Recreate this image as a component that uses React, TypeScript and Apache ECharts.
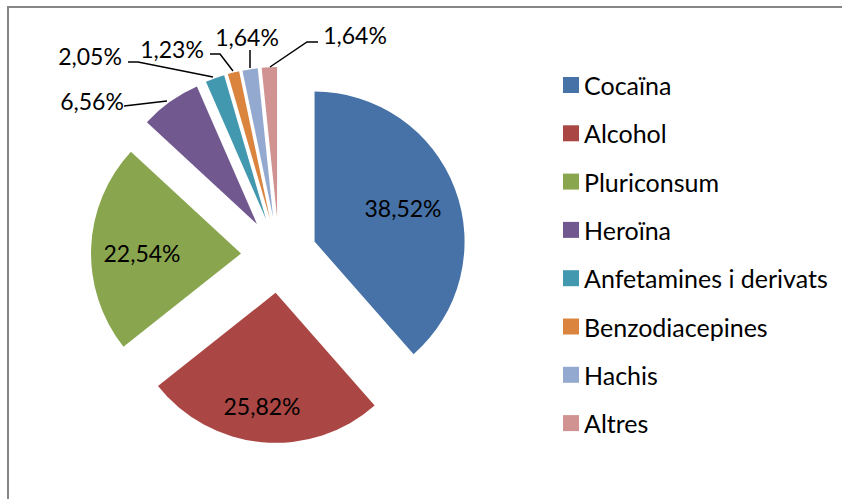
import React, { useEffect, useRef } from "react";
import * as echarts from "echarts";

const categories = [
  "Cocaïna",
  "Alcohol",
  "Pluriconsum",
  "Heroïna",
  "Anfetamines i derivats",
  "Benzodiacepines",
  "Hachis",
  "Altres",
];
const values = [38.52, 25.82, 22.54, 6.56, 2.05, 1.23, 1.64, 1.64];
const colors = [
  "#4672A8",
  "#AA4644",
  "#89A54E",
  "#71588F",
  "#4198AF",
  "#DB843D",
  "#93A9CF",
  "#D09392",
];

// label placement (layout only)
const labelCenters: number[][] = [
  [403, 208],
  [262, 406],
  [142, 253],
  [92, 101],
  [90, 56],
  [172, 49],
  [247, 37],
  [355, 35],
];
const leaderLines: (number[][] | null)[] = [
  null,
  null,
  null,
  [[167, 101], [124, 106]],
  [[213, 77], [138, 62], [128, 62]],
  [[233, 71], [220, 54], [210, 54]],
  [[250, 68], [250, 50]],
  [[270, 67], [307, 42], [318, 42]],
];

const FONT = "Lato";
const fmt = (v: number) => v.toFixed(2).replace(".", ",") + "%";

export default function App() {
  const ref = useRef<HTMLDivElement>(null);
  useEffect(() => {
    if (!ref.current) return;
    const chart = echarts.init(ref.current, null, { renderer: "svg" });
    const graphics: any[] = [
      {
        type: "rect",
        shape: { x: 8, y: 7, width: 1000, height: 800 },
        style: { fill: "none", stroke: "#868686", lineWidth: 2 },
        silent: true,
        z: 0,
      },
    ];
    values.forEach((v, i) => {
      const line = leaderLines[i];
      if (line) {
        graphics.push({
          type: "polyline",
          shape: { points: line },
          style: { stroke: "#000", lineWidth: 1.5, fill: "none" },
          silent: true,
          z: 10,
        });
      }
      graphics.push({
        type: "text",
        x: labelCenters[i][0],
        y: labelCenters[i][1],
        style: {
          text: fmt(v),
          fontFamily: FONT,
          fontSize: 23,
          fill: "#000",
          align: "center",
          verticalAlign: "middle",
        },
        silent: true,
        z: 10,
      });
    });
    chart.setOption({
      animation: false,
      backgroundColor: "#ffffff",
      color: colors,
      textStyle: { fontFamily: FONT },
      graphic: graphics,
      legend: {
        orient: "vertical",
        left: 558,
        top: 67,
        icon: "rect",
        itemWidth: 16,
        itemHeight: 16,
        itemGap: 22.3,
        textStyle: {
          fontFamily: FONT,
          fontSize: 25,
          color: "#000",
          lineHeight: 26,
        },
        data: categories,
      },
      series: [
        {
          type: "pie",
          center: [279, 255],
          radius: 150,
          startAngle: 90,
          clockwise: true,
          selectedMode: "multiple",
          selectedOffset: 38,
          avoidLabelOverlap: false,
          emphasis: { disabled: true },
          label: { show: false },
          labelLine: { show: false },
          data: categories.map((name, i) => ({
            name,
            value: values[i],
            selected: true,
          })),
        },
      ],
    });
    return () => chart.dispose();
  }, []);
  return (
    <div
      ref={ref}
      style={{ position: "absolute", left: 0, top: 0, width: 842, height: 499 }}
    />
  );
}
